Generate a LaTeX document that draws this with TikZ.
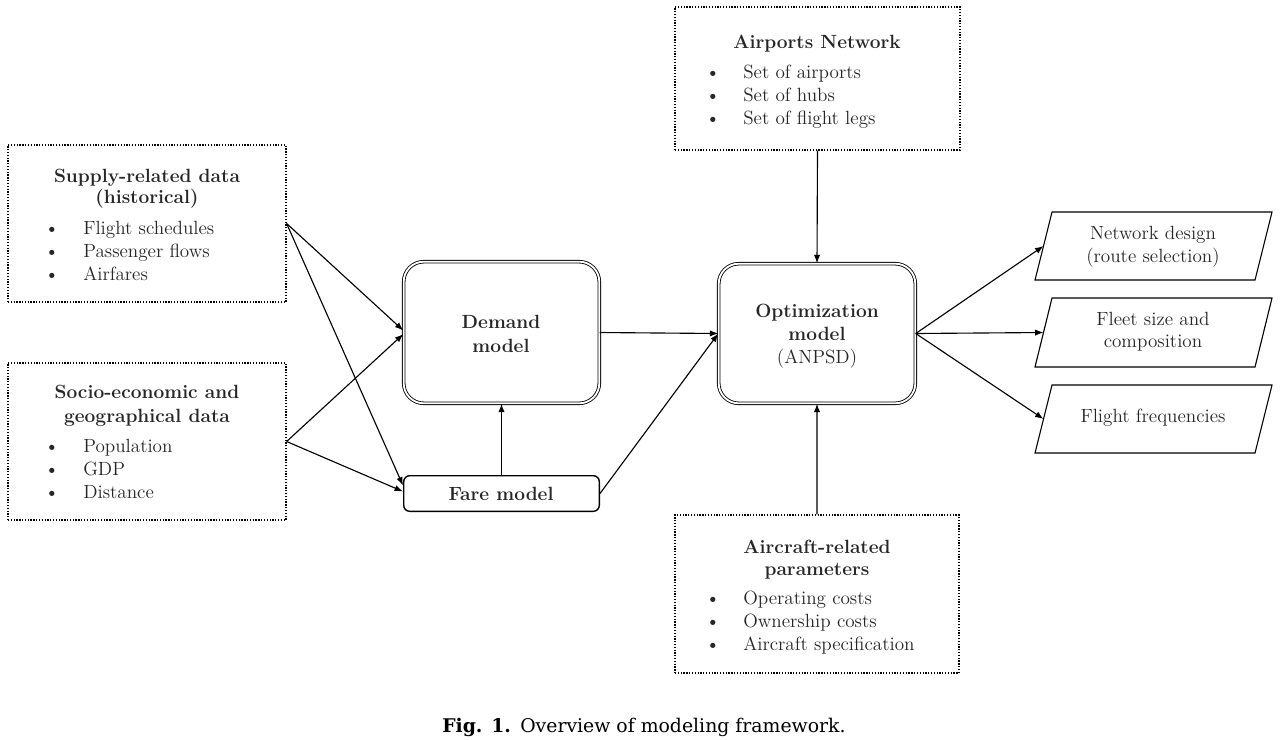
\documentclass[tikz,border=0pt]{standalone}
\usepackage{fontspec}
\newfontfamily\capfont{DejaVu Serif}
\usetikzlibrary{arrows.meta,fit,calc}
\begin{document}
\begin{tikzpicture}[x=0.025cm,y=-0.025cm,
  every node/.style={font=\fontsize{13.6}{16.3}\selectfont, text=black!85},
  dotbox/.style={draw, line width=0.9pt, dash pattern=on 0.9pt off 1.1pt, inner sep=0pt},
  dblbox/.style={draw, double, line width=0.6pt, double distance=1.3pt, rounded corners=0.5cm, inner sep=0pt},
  farebox/.style={draw, line width=1pt, rounded corners=0.15cm, inner sep=0pt},
  parabox/.style={draw, line width=0.8pt},
  arr/.style={-{Latex[length=6pt,width=4.5pt]}, line width=0.8pt},
  ttl/.style={anchor=base, inner sep=0pt, font=\fontsize{13.6}{16.3}\selectfont\bfseries},
  itm/.style={anchor=base west, inner sep=0pt},
  bul/.style={anchor=base, inner sep=0pt},
  ptxt/.style={anchor=base, inner sep=0pt}
]
\useasboundingbox (0,0) rectangle (1280,739);

% Supply-related data
\node[dotbox, fit={(8,145) (286,302)}] (supply) {};
\node[ttl] (supplyt1) at (147,182) {Supply-related data};
\node[ttl] (supplyt2) at (147,203) {(historical)};
\node[bul] (sb1) at (52,234) {\textbullet};
\node[bul] (sb2) at (52,257) {\textbullet};
\node[bul] (sb3) at (52,280) {\textbullet};
\node[itm] (si1) at (83,234) {Flight schedules};
\node[itm] (si2) at (83,257) {Passenger flows};
\node[itm] (si3) at (83,280) {Airfares};

% Socio-economic
\node[dotbox, fit={(8,363) (286,520)}] (socio) {};
\node[ttl] (sociot1) at (147,398) {Socio-economic and};
\node[ttl] (sociot2) at (147,422) {geographical data};
\node[bul] (ob1) at (52,452) {\textbullet};
\node[bul] (ob2) at (52,475) {\textbullet};
\node[bul] (ob3) at (52,498) {\textbullet};
\node[itm] (oi1) at (83,452) {Population};
\node[itm] (oi2) at (83,475) {GDP};
\node[itm] (oi3) at (83,498) {Distance};

% Airports network
\node[dotbox, fit={(675,7) (960,150)}] (airports) {};
\node[ttl] (airt) at (817,48) {Airports Network};
\node[bul] (ab1) at (713,78) {\textbullet};
\node[bul] (ab2) at (713,101) {\textbullet};
\node[bul] (ab3) at (713,124) {\textbullet};
\node[itm] (ai1) at (743,78) {Set of airports};
\node[itm] (ai2) at (743,101) {Set of hubs};
\node[itm] (ai3) at (743,124) {Set of flight legs};

% Aircraft-related parameters
\node[dotbox, fit={(675,515) (959,673)}] (aircraft) {};
\node[ttl] (act1) at (817,553) {Aircraft-related};
\node[ttl] (act2) at (817,575) {parameters};
\node[bul] (cb1) at (713,604) {\textbullet};
\node[bul] (cb2) at (713,627) {\textbullet};
\node[bul] (cb3) at (713,650) {\textbullet};
\node[itm] (ci1) at (743,604) {Operating costs};
\node[itm] (ci2) at (743,627) {Ownership costs};
\node[itm] (ci3) at (743,650) {Aircraft specification};

% Models
\node[dblbox, fit={(403.7,261.7) (599.3,403.3)}] (demand) {};
\node[ttl] (demt1) at (501,328) {Demand};
\node[ttl] (demt2) at (501,352) {model};
\node[dblbox, fit={(718.7,263.7) (915.3,403.3)}] (opt) {};
\node[ttl] (optt1) at (817,317) {Optimization};
\node[ttl] (optt2) at (817,340) {model};
\node[ptxt] (optt3) at (817,363) {(ANPSD)};
\node[farebox, fit={(403.7,475.7) (599.3,511.3)}] (fare) {};
\node[ttl] (faret) at (501,500) {Fare model};

% Outputs
\draw[parabox] (1052,212) -- (1272,212) -- (1255,280) -- (1035,280) -- cycle;
\draw[parabox] (1052,298) -- (1272,298) -- (1255,367) -- (1035,367) -- cycle;
\draw[parabox] (1052,385) -- (1272,385) -- (1255,453) -- (1035,453) -- cycle;
\coordinate (out1) at (1043.5,246);
\coordinate (out2) at (1043.5,332.5);
\coordinate (out3) at (1043.5,419);
\node[ptxt] (o1a) at (1153,239) {Network design};
\node[ptxt] (o1b) at (1153,262) {(route selection)};
\node[ptxt] (o2a) at (1153,325) {Fleet size and};
\node[ptxt] (o2b) at (1153,347) {composition};
\node[ptxt] (o3a) at (1153,422) {Flight frequencies};

% Connectors
\draw[arr] (supply.east) -- ([yshift=0.05cm]demand.west);
\draw[arr] (supply.east) -- ([yshift=0.2cm]fare.west);
\draw[arr] (socio.east) -- ([yshift=-0.04cm]demand.west);
\draw[arr] (socio.east) -- ([yshift=0.05cm]fare.west);
\draw[arr] (fare.north) -- (demand.south);
\draw[arr] (demand.east) -- (opt.west);
\draw[arr] (fare.east) -- (opt.west);
\draw[arr] (airports.south) -- (opt.north);
\draw[arr] (aircraft.north) -- (opt.south);
\draw[arr] (opt.east) -- (out1);
\draw[arr] (opt.east) -- (out2);
\draw[arr] (opt.east) -- (out3);

% Caption
\node[anchor=base west, inner sep=0pt, text=black, font=\capfont\fontsize{13.4}{16}\selectfont\bfseries] (figlbl) at (442,732) {Fig. 1.};
\node[anchor=base west, inner sep=0pt, text=black, font=\capfont\fontsize{13.4}{16}\selectfont] (figcap) at (520,732) {Overview of modeling framework.};
\end{tikzpicture}
\end{document}
